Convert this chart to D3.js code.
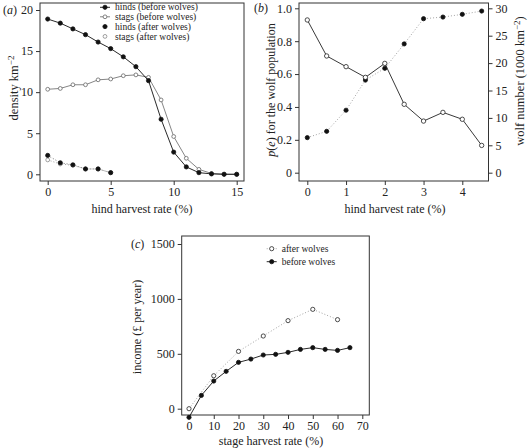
<!DOCTYPE html>
<html><head><meta charset="utf-8">
<script src="https://cdn.jsdelivr.net/npm/d3@7"></script>
<style>body{margin:0;background:#fff}svg{display:block}text{font-family:"Liberation Serif","Times New Roman",serif;fill:#222}</style>
</head><body><svg id="c" width="528" height="448"></svg>
<script>
// ---- data ----
const aRate = [0,1,2,3,4,5,6,7,8,9,10,11,12,13,14,15];
const hindsBefore = [18.9,18.4,17.7,17.0,16.1,15.3,14.3,13.1,11.4,6.7,2.7,0.9,0.2,0.05,0,0];
const stagsBefore = [10.35,10.45,10.9,10.9,11.5,11.6,12.0,12.1,11.8,9.05,4.6,1.95,0.6,0.1,0.02,0];
const aRateAfter = [0,1,2,3,4,5];
const hindsAfter = [2.3,1.4,1.15,0.65,0.65,0.2];
const stagsAfter = [1.75,1.25,1.1,0.65,0.65,0.2];
const aXTicks = [0,5,10,15];
const aYTicks = [0,5,10,15,20];

const bRate = [0,0.5,1,1.5,2,2.5,3,3.5,4,4.5];
const pExt = [0.929,0.71,0.645,0.58,0.665,0.416,0.314,0.367,0.325,0.166];
const wolfNum = [6.4,7.55,11.4,16.9,19.05,23.5,28.1,28.4,28.9,29.5];
const bXTicks = [0,1,2,3,4];
const bYTicks = [0,0.2,0.4,0.6,0.8,1.0];
const bY2Ticks = [0,5,10,15,20,25,30];

const cRateAfter = [0,10,20,30,40,50,60];
const incomeAfter = [0,300,522,662,802,905,811];
const cRateBefore = [0,5,10,15,20,25,30,35,40,45,50,55,60,65];
const incomeBefore = [-79,121,252,340,422,452,489,495,513,540,556,540,531,556];
const cXTicks = [0,10,20,30,40,50,60,70];
const cYTicks = [0,500,1000,1500];

const svg = d3.select("#c");
const AX = "#333";
const TF = 12;

function frame(box){
  svg.append("rect").attr("x",box.l).attr("y",box.t).attr("width",box.r-box.l).attr("height",box.b-box.t)
    .attr("fill","none").attr("stroke",AX).attr("stroke-width",1);
}
function styleAxis(g){
  g.select(".domain").remove();
  g.selectAll("line").attr("stroke",AX);
  g.selectAll("text").attr("font-size",TF).attr("fill","#222").style("font-family","Liberation Serif");
}
function xAxis(x, ticks, y, fmt){
  const g = svg.append("g").attr("transform",`translate(0,${y})`)
    .call(d3.axisBottom(x).tickValues(ticks).tickSize(4).tickPadding(2).tickFormat(fmt||d3.format("d")));
  styleAxis(g);
  return g;
}
function yAxis(y, ticks, x, fmt, right){
  const ax = right ? d3.axisRight(y) : d3.axisLeft(y);
  const g = svg.append("g").attr("transform",`translate(${x},0)`)
    .call(ax.tickValues(ticks).tickSize(4).tickPadding(3).tickFormat(fmt||d3.format("d")));
  styleAxis(g);
  return g;
}
function series(xs, ys, x, y, o){
  const pts = xs.map((d,i)=>[x(d),y(ys[i])]);
  svg.append("path").attr("d",d3.line()(pts)).attr("fill","none")
    .attr("stroke",o.line).attr("stroke-width",o.lw||0.9)
    .attr("stroke-dasharray",o.dash||null);
  svg.append("g").selectAll("circle").data(pts).join("circle")
    .attr("cx",d=>d[0]).attr("cy",d=>d[1]).attr("r",o.r||2.1)
    .attr("fill",o.fill).attr("stroke",o.stroke).attr("stroke-width",0.8);
}
function legendRow(x, y, o, label, fs){
  svg.append("line").attr("x1",x-5).attr("x2",x+5).attr("y1",y).attr("y2",y)
    .attr("stroke",o.line).attr("stroke-width",o.lw||0.9).attr("stroke-dasharray",o.dash||null);
  svg.append("circle").attr("cx",x).attr("cy",y).attr("r",o.r||2.1).attr("fill",o.fill).attr("stroke",o.stroke).attr("stroke-width",0.8);
  svg.append("text").attr("x",x+10).attr("y",y).attr("dy","0.33em").attr("font-size",fs).text(label);
}
function panelLabel(x, y, letter){
  const t = svg.append("text").attr("x",x).attr("y",y).attr("dy","0.33em").attr("font-size",12);
  t.append("tspan").text("(");
  t.append("tspan").attr("font-style","italic").text(letter);
  t.append("tspan").text(")");
}

const sHB = {line:"#111", fill:"#111", stroke:"#111"};
const sSB = {line:"#777", fill:"#fff", stroke:"#666", r:1.9};
const sHA = {line:"#666", fill:"#111", stroke:"#111", dash:"1,2"};
const sSA = {line:"#999", fill:"#fff", stroke:"#888", dash:"1,2", r:1.9};

// ---- panel (a) ----
{
  const box = {l:40,r:244,t:3,b:181};
  const x = d3.scaleLinear().domain([0,15]).range([47.7,236.7]);
  const y = d3.scaleLinear().domain([0,20]).range([174.3,10]);
  frame(box);
  xAxis(x, aXTicks, box.b);
  yAxis(y, aYTicks, box.l);
  series(aRate, stagsBefore, x, y, sSB);
  series(aRate, hindsBefore, x, y, sHB);
  series(aRateAfter, stagsAfter, x, y, sSA);
  series(aRateAfter, hindsAfter, x, y, sHA);
  const lx = 105, fs = 9.5;
  legendRow(lx, 7.3, sHB, "hinds (before wolves)", fs);
  legendRow(lx, 16.8, sSB, "stags (before wolves)", fs);
  legendRow(lx, 26.6, {...sHA, line:"none"}, "hinds (after wolves)", fs);
  legendRow(lx, 36.4, {...sSA, line:"none"}, "stags (after wolves)", fs);
  svg.append("text").attr("x",142).attr("y",213).attr("text-anchor","middle").attr("font-size",12).text("hind harvest rate (%)");
  const t = svg.append("text").attr("transform","translate(18,88) rotate(-90)").attr("text-anchor","middle").attr("font-size",12.5);
  t.append("tspan").text("density km");
  t.append("tspan").attr("dy",-4).attr("font-size",9).text("−2");
  panelLabel(3, 10, "a");
}

// ---- panel (b) ----
{
  const box = {l:299,r:488.5,t:3,b:181};
  const x = d3.scaleLinear().domain([0,4]).range([307.3,462.3]);
  const y = d3.scaleLinear().domain([0,1]).range([172.7,8.3]);
  const y2 = d3.scaleLinear().domain([0,30]).range([172.7,8.3]);
  frame(box);
  xAxis(x, bXTicks, box.b);
  yAxis(y, bYTicks, box.l, d=> d===0?"0":d3.format(".1f")(d));
  yAxis(y2, bY2Ticks, box.r, null, true);
  series(bRate, wolfNum, x, y2, {line:"#999", fill:"#111", stroke:"#111", dash:"1,2"});
  series(bRate, pExt, x, y, {line:"#222", fill:"#fff", stroke:"#222", r:2.2});
  svg.append("text").attr("x",395).attr("y",213).attr("text-anchor","middle").attr("font-size",12).text("hind harvest rate (%)");
  const t = svg.append("text").attr("transform","translate(275,90) rotate(-90)").attr("text-anchor","middle").attr("font-size",12);
  t.append("tspan").attr("font-style","italic").text("p");
  t.append("tspan").text("(");
  t.append("tspan").attr("font-style","italic").text("e");
  t.append("tspan").text(") for the wolf population");
  const t2 = svg.append("text").attr("transform","translate(524,81) rotate(-90)").attr("text-anchor","middle").attr("font-size",12.5);
  t2.append("tspan").text("wolf number (1000 km");
  t2.append("tspan").attr("dy",-4).attr("font-size",9).text("−2");
  t2.append("tspan").attr("dy",4).text(")");
  panelLabel(254, 8.5, "b");
}

// ---- panel (c) ----
{
  const box = {l:181.7,r:369.3,t:236,b:415};
  const x = d3.scaleLinear().domain([0,70]).range([189,362.3]);
  const y = d3.scaleLinear().domain([0,1500]).range([408.7,244]);
  frame(box);
  xAxis(x, cXTicks, box.b);
  yAxis(y, cYTicks, box.l);
  const sAfter = {line:"#999", fill:"#fff", stroke:"#222", dash:"1,2", r:2.1};
  const sBefore = {line:"#111", fill:"#111", stroke:"#111"};
  series(cRateAfter, incomeAfter, x, y, sAfter);
  series(cRateBefore, incomeBefore, x, y, sBefore);
  legendRow(271.7, 248.7, sAfter, "after wolves", 9.5);
  legendRow(271.7, 261.7, sBefore, "before wolves", 9.5);
  svg.append("text").attr("x",271).attr("y",445).attr("text-anchor","middle").attr("font-size",12).text("stage harvest rate (%)");
  svg.append("text").attr("transform","translate(141,327) rotate(-90)").attr("text-anchor","middle").attr("font-size",12).text("income (£ per year)");
  panelLabel(131, 244, "c");
}
</script></body></html>
